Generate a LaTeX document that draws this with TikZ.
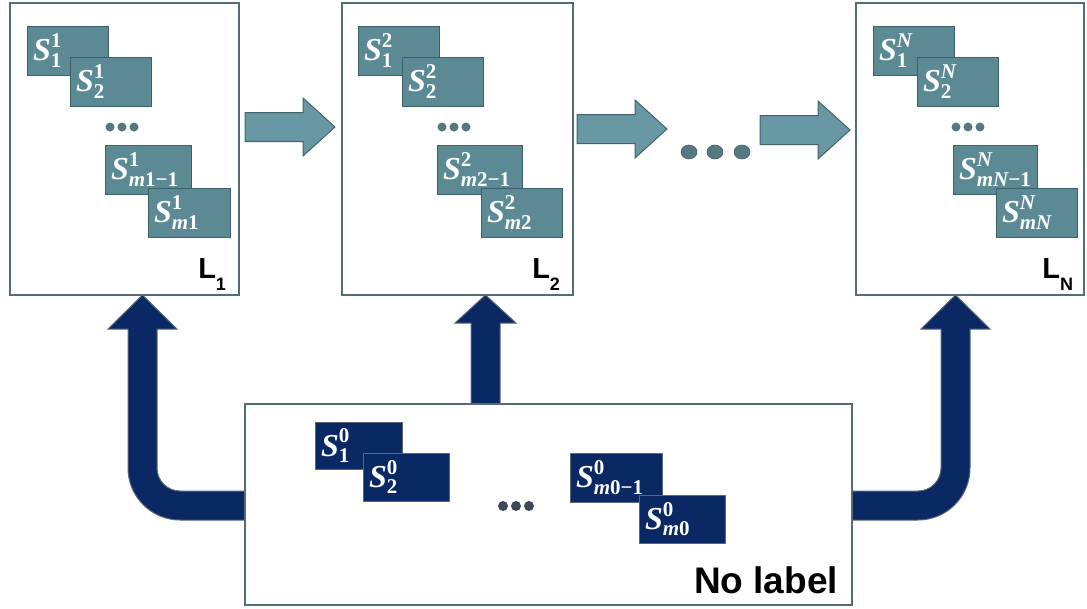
\documentclass[tikz,border=0pt]{standalone}
\usepackage{fontspec}
\setsansfont{Liberation Sans}
\newfontfamily\mfont{Liberation Serif}
\usetikzlibrary{calc}
\definecolor{boxline}{RGB}{82,110,116}
\definecolor{tealfill}{RGB}{92,138,148}
\definecolor{tealedge}{RGB}{60,96,104}
\definecolor{arrfill}{RGB}{104,152,163}
\definecolor{arredge}{RGB}{66,98,106}
\definecolor{dotteal}{RGB}{84,122,128}
\definecolor{navy}{RGB}{10,40,100}
\definecolor{navyedge}{RGB}{90,105,120}
\definecolor{navydot}{RGB}{62,72,88}
\newcommand\sv[2]{$\hbox{\mfont\bfseries\itshape\fontsize{32}{32}\selectfont S}^{\hbox{\mfont\bfseries\fontsize{21}{21}\selectfont #1}}_{\hbox{\mfont\bfseries\fontsize{21}{21}\selectfont #2}}$}
\tikzset{
  outerbox/.style={draw=boxline, fill=white, line width=2pt, anchor=north west, inner sep=0pt, outer sep=0pt},
  sbox/.style={draw=tealedge, fill=tealfill, line width=1pt, anchor=north west, minimum height=49pt,
    inner xsep=6pt, inner ysep=0pt, outer sep=0pt, text width=#1, align=left, text=white,
    font=\fontsize{29}{32}\selectfont},
  nbox/.style={sbox=#1, draw=navyedge, fill=navy},
  lab/.style={inner sep=0pt, outer sep=0pt, text=black, font=\sffamily\bfseries\fontsize{29}{29}\selectfont},
  harrowstyle/.style={draw=arredge, fill=arrfill, line width=1pt, line join=miter},
  navyarrow/.style={draw=navyedge, fill=navy, line width=1pt, line join=miter},
  harrow/.pic={\draw[harrowstyle] (0,-14.5) -- (58,-14.5) -- (58,-29) -- (90,0) -- (58,29) -- (58,14.5) -- (0,14.5) -- cycle;}
}
\begin{document}
\begin{tikzpicture}[x=1pt,y=-1pt]
\useasboundingbox (0,0) rectangle (1087,608);
% navy arrows (behind boxes)
\draw[navyarrow] (245,491) -- (180,491) arc[start angle=90, end angle=180, radius=23] -- (157,329) -- (177,329) -- (142.5,295) -- (108,329) -- (128,329) -- (128,468) arc[start angle=180, end angle=90, radius=52] -- (245,520) -- cycle;
\draw[navyarrow] (471,405) -- (471,323) -- (455,323) -- (485.5,295) -- (516,323) -- (500,323) -- (500,405) -- cycle;
\draw[navyarrow] (852,491) -- (918,491) arc[start angle=90, end angle=0, radius=23] -- (941,329) -- (921,329) -- (955.5,295) -- (990,329) -- (970,329) -- (970,468) arc[start angle=0, end angle=90, radius=52] -- (852,520) -- cycle;
% layer boxes
\node[outerbox, minimum width=229pt, minimum height=292pt] (L1) at (10,3) {};
\node[outerbox, minimum width=231pt, minimum height=292pt] (L2) at (342,3) {};
\node[outerbox, minimum width=228pt, minimum height=292pt] (LN) at (856,3) {};
\node[outerbox, minimum width=607pt, minimum height=201pt] (N0) at (245,404) {};
% horizontal arrows
\pic (h1) at (245,127) {harrow};
\pic (h2) at (577,129) {harrow};
\pic (h3) at (760,130) {harrow};
\fill[dotteal, draw=arredge, line width=0.6pt] (689,152) ellipse (8 and 7);
\fill[dotteal, draw=arredge, line width=0.6pt] (715,152) ellipse (8 and 7);
\fill[dotteal, draw=arredge, line width=0.6pt] (742,152) ellipse (8 and 7);
% L1 contents
\node[sbox=69pt] (a1) at ($(L1.north west)+(17,23)$) {\sv{1}{1}};
\node[sbox=69pt] (a2) at ($(L1.north west)+(60,54)$) {\sv{1}{2}};
\foreach \dx in {100,112,124} \fill[dotteal] ($(L1.north west)+(\dx,124)$) circle (4.5);
\node[sbox=74pt] (a3) at ($(L1.north west)+(95,142)$) {\sv{1}{{\itshape m}1−1}};
\node[sbox=70pt] (a4) at ($(L1.north west)+(138,185)$) {\sv{1}{{\itshape m}1}};
\node[lab, anchor=base east] (l1) at ($(L1.south east)+(-13,-17)$) {L\raisebox{-12pt}{\fontsize{18}{18}\selectfont 1}};
% L2 contents
\node[sbox=69pt] (b1) at ($(L2.north west)+(16,23)$) {\sv{2}{1}};
\node[sbox=69pt] (b2) at ($(L2.north west)+(60,54)$) {\sv{2}{2}};
\foreach \dx in {100,112,124} \fill[dotteal] ($(L2.north west)+(\dx,124)$) circle (4.5);
\node[sbox=73pt] (b3) at ($(L2.north west)+(95,142)$) {\sv{2}{{\itshape m}2−1}};
\node[sbox=69pt] (b4) at ($(L2.north west)+(139,185)$) {\sv{2}{{\itshape m}2}};
\node[lab, anchor=base east] (l2) at ($(L2.south east)+(-13,-17)$) {L\raisebox{-12pt}{\fontsize{18}{18}\selectfont 2}};
% LN contents
\node[sbox=69pt] (c1) at ($(LN.north west)+(17,23)$) {\sv{\itshape N}{1}};
\node[sbox=69pt] (c2) at ($(LN.north west)+(61,54)$) {\sv{\itshape N}{2}};
\foreach \dx in {100,112,124} \fill[dotteal] ($(LN.north west)+(\dx,124)$) circle (4.5);
\node[sbox=72pt] (c3) at ($(LN.north west)+(97,142)$) {\sv{\itshape N}{{\itshape mN}−1}};
\node[sbox=69pt] (c4) at ($(LN.north west)+(140,185)$) {\sv{\itshape N}{\itshape mN}};
\node[lab, anchor=base east] (ln) at ($(LN.south east)+(-11,-17)$) {L\raisebox{-12pt}{\fontsize{18}{18}\selectfont N}};
% No label contents
\node[nbox=75pt, minimum height=47pt] (d1) at ($(N0.north west)+(70,18)$) {\sv{0}{1}};
\node[nbox=74pt, minimum height=48pt] (d2) at ($(N0.north west)+(118,49)$) {\sv{0}{2}};
\foreach \dx in {258,271,284} \fill[navydot] ($(N0.north west)+(\dx,102)$) circle (5);
\node[nbox=80pt] (d3) at ($(N0.north west)+(325,49)$) {\sv{0}{{\itshape m}0−1}};
\node[nbox=74pt, minimum height=48pt] (d4) at ($(N0.north west)+(394,91)$) {\sv{0}{{\itshape m}0}};
\node[lab, anchor=base east, font=\sffamily\bfseries\fontsize{37}{37}\selectfont] (nl) at ($(N0.south east)+(-14,-12)$) {No label};
\end{tikzpicture}
\end{document}
